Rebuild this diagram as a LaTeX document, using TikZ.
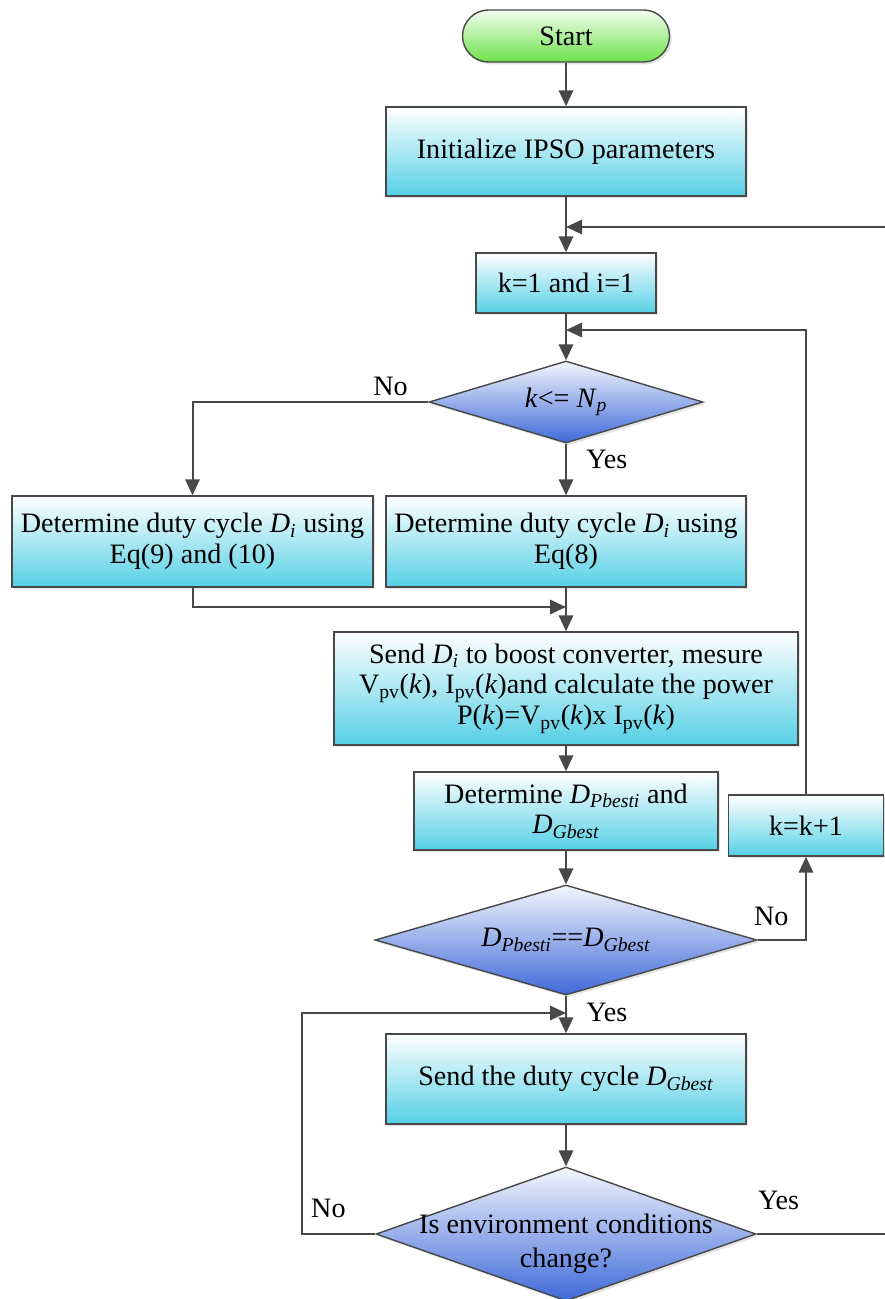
\documentclass[tikz,border=0pt]{standalone}
\usepackage{fontspec}
\setmainfont{Liberation Serif}[Ligatures=TeX]
\newfontfamily\tnr{Liberation Serif}
\usepackage{tikz}
\usetikzlibrary{shapes.geometric,arrows.meta,shadows}
\definecolor{linegray}{RGB}{72,72,72}
\definecolor{boxcyan}{RGB}{86,208,230}
\definecolor{startgreen}{RGB}{108,226,72}
\definecolor{decblue}{RGB}{62,105,216}
\tikzset{
    every node/.append style={font=\tnr\fontsize{20}{22}\selectfont}}
\newcommand{\isb}[2]{\textit{#1}\textsubscript{\textit{#2}}}

\begin{document}
\begin{tikzpicture}[x=0.25mm,y=-0.25mm,
    term/.style={draw=linegray,line width=.35mm,rounded corners=6.5mm,minimum width=51.75mm,minimum height=13mm,
        top color=startgreen!8!white,middle color=startgreen!40!white,bottom color=startgreen,
        drop shadow={opacity=.2,shadow xshift=.6mm,shadow yshift=-.6mm}},
    proc/.style={draw=linegray,line width=.35mm,minimum width=90mm,align=center,inner sep=1mm,
        top color=white,middle color=boxcyan!30!white,bottom color=boxcyan,
        drop shadow={opacity=.2,shadow xshift=.6mm,shadow yshift=-.6mm}},
    decision/.style={diamond,draw=linegray,line width=.35mm,inner sep=0pt,
        top color=decblue!6!white,middle color=decblue!38!white,bottom color=decblue,
        drop shadow={opacity=.2,shadow xshift=.6mm,shadow yshift=-.6mm}},
    arr/.style={draw=linegray,line width=.5mm,-{Triangle[length=4mm,width=3.6mm]}},
    lbl/.style={inner sep=1pt}
]
    \fill[white] (0,0) rectangle (885,1299);
    \useasboundingbox (0,0) rectangle (885,1299);

    \node[term] (start) at (566,36) {Start};
    \node[proc,minimum height=22.25mm] (init) at (566,151.5) {Initialize IPSO parameters};
    \node[proc,minimum width=45mm,minimum height=15mm] (kinit) at (566,283) {k=1 and i=1};
    \node[decision,minimum width=68.5mm,minimum height=20.5mm] (dec1) at (566,402) {};
    \node (dec1t) at (dec1) {\textit{k}<= \isb{N}{p}};
    \node[proc,minimum width=90.25mm,minimum height=22.75mm] (detL) at (192.5,541.5)
        {Determine duty cycle \isb{D}{i} using\\Eq(9) and (10)};
    \node[proc,minimum height=22.75mm] (detR) at (566,541.5)
        {Determine duty cycle \isb{D}{i} using\\Eq(8)};
    \node[proc,minimum width=116mm,minimum height=28.25mm] (meas) at (566,688.5)
        {Send \isb{D}{i} to boost converter, mesure\\
         V\textsubscript{pv}(\textit{k}), I\textsubscript{pv}(\textit{k})and calculate the power\\
         P(\textit{k})=V\textsubscript{pv}(\textit{k})x I\textsubscript{pv}(\textit{k})};
    \node[proc,minimum width=76mm,minimum height=19.5mm] (detP) at (566,811)
        {Determine \isb{D}{Pbesti} and\\\isb{D}{Gbest}};
    \node[proc,minimum width=38.75mm,minimum height=15.25mm] (kinc) at (806,825.5) {k=k+1};
    \node[decision,minimum width=95.5mm,minimum height=27.5mm] (dec2) at (566,940) {};
    \node (dec2t) at (dec2) {\isb{D}{Pbesti}==\isb{D}{Gbest}};
    \node[proc,minimum height=22.5mm] (sendD) at (566,1079) {Send the duty cycle \isb{D}{Gbest}};
    \node[decision,minimum width=95mm,minimum height=33.5mm] (dec3) at (566,1234) {};
    \node[align=center,yshift=-2.5mm] (dec3t) at (dec3) {Is environment conditions\\[2pt]change?};

    \coordinate (lp1) at (566,227);
    \coordinate (rt) at (885,227);
    \coordinate (lp2) at (566,330);
    \coordinate (mrg) at (566,607);
    \coordinate (lp3) at (566,1013);
    \coordinate (lft) at (302,1013);
    \coordinate (rb) at (885,1234);

    \draw[arr] (start) -- (init);
    \draw[arr] (init) -- (kinit);
    \draw[arr] (rt) -- (lp1);
    \draw[arr] (kinit) -- (dec1);
    \draw[arr] (kinc.north) |- (lp2);
    \draw[arr] (dec1.west) -| node[lbl,pos=.08,above=1mm] {No} (detL.north);
    \draw[arr] (dec1.south) -- node[lbl,pos=.3,right=4.5mm] {Yes} (detR.north);
    \draw[arr] (detL.south) |- (mrg);
    \draw[arr] (detR) -- (meas);
    \draw[arr] (meas) -- (detP);
    \draw[arr] (detP) -- (dec2);
    \draw[arr] (dec2.east) -| node[lbl,pos=.14,above=3mm] {No} (kinc.south);
    \draw[arr] (dec2.south) -- node[lbl,pos=.44,right=4.5mm] {Yes} (sendD.north);
    \draw[arr] (sendD) -- (dec3);
    \draw[arr] (dec3.west) -| node[lbl,pos=.32,above=3.5mm] {No} (lft) -- (lp3);
    \draw[draw=linegray,line width=.5mm] (dec3.east) -- node[lbl,pos=.17,above=5.5mm] {Yes} (rb);
\end{tikzpicture}
\end{document}
